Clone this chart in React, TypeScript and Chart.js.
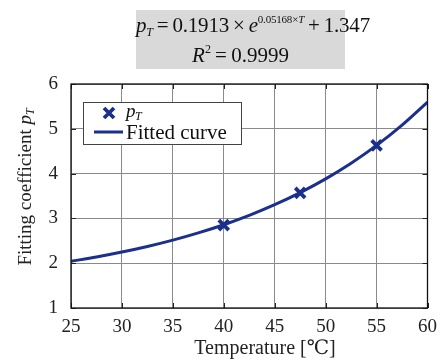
import React, { useEffect, useRef } from "react";
import { Chart, registerables } from "chart.js";

Chart.register(...registerables);

const xTicks = [25, 30, 35, 40, 45, 50, 55, 60];
const yTicks = [1, 2, 3, 4, 5, 6];
const measuredT = [40, 47.5, 55];
const measuredP = [2.85, 3.57, 4.63];
const curveT = [25, 27.5, 30, 32.5, 35, 37.5, 40, 42.5, 45, 47.5, 50, 52.5, 55, 57.5, 60];
const curveP = [2.043, 2.139, 2.249, 2.373, 2.515, 2.676, 2.859, 3.067, 3.305, 3.575, 3.882, 4.231, 4.629, 5.082, 5.597];

const BLUE = "#1b2f8c";
const SERIF = "'Liberation Serif', 'DejaVu Serif', serif";

const decor = {
  id: "decor",
  afterDraw(chart: any) {
    const { ctx, chartArea: a, scales } = chart;
    const xs = scales.x, ys = scales.y;
    ctx.save();
    // inward ticks
    ctx.strokeStyle = "#222";
    ctx.lineWidth = 1;
    ctx.beginPath();
    xTicks.forEach((v) => {
      const px = Math.round(xs.getPixelForValue(v)) + 0.5;
      ctx.moveTo(px, a.bottom); ctx.lineTo(px, a.bottom - 5);
      ctx.moveTo(px, a.top); ctx.lineTo(px, a.top + 5);
    });
    yTicks.forEach((v) => {
      const py = Math.round(ys.getPixelForValue(v)) + 0.5;
      ctx.moveTo(a.left, py); ctx.lineTo(a.left + 5, py);
      ctx.moveTo(a.right, py); ctx.lineTo(a.right - 5, py);
    });
    ctx.stroke();
    // frame
    ctx.strokeStyle = "#111";
    ctx.lineWidth = 1.3;
    ctx.strokeRect(a.left, a.top, a.right - a.left, a.bottom - a.top);

    // legend box
    const lx = 83, ly = 102, lw = 158, lh = 42;
    ctx.fillStyle = "#fff";
    ctx.fillRect(lx, ly, lw, lh);
    ctx.strokeStyle = "#444";
    ctx.lineWidth = 1;
    ctx.strokeRect(lx + 0.5, ly + 0.5, lw, lh);
    // cross
    ctx.strokeStyle = BLUE;
    ctx.lineWidth = 3.8;
    ctx.beginPath();
    const cx = 109, cy = 113, s = 5;
    ctx.moveTo(cx - s, cy - s); ctx.lineTo(cx + s, cy + s);
    ctx.moveTo(cx + s, cy - s); ctx.lineTo(cx - s, cy + s);
    ctx.stroke();
    // line
    ctx.lineWidth = 3;
    ctx.beginPath();
    ctx.moveTo(94, 132); ctx.lineTo(123, 132);
    ctx.stroke();
    ctx.fillStyle = "#111";
    ctx.textBaseline = "alphabetic";
    ctx.textAlign = "left";
    ctx.font = `italic 19px ${SERIF}`;
    ctx.fillText("p", 126, 117);
    ctx.font = `italic 12px ${SERIF}`;
    ctx.fillText("T", 135, 120);
    ctx.font = `21px ${SERIF}`;
    ctx.fillText("Fitted curve", 126, 139);

    // x title
    ctx.textAlign = "center";
    ctx.font = `20px ${SERIF}`;
    ctx.fillStyle = "#222";
    ctx.fillText("Temperature [\u2103]", 265, 354);

    // y title
    ctx.translate(31, 187);
    ctx.rotate(-Math.PI / 2);
    ctx.font = `19px ${SERIF}`;
    const main = "Fitting coefficient ";
    const w1 = ctx.measureText(main).width;
    ctx.font = `italic 19px ${SERIF}`;
    const w2 = ctx.measureText("p").width;
    ctx.font = `italic 12px ${SERIF}`;
    const w3 = ctx.measureText("T").width;
    const total = w1 + w2 + w3;
    let x0 = -total / 2;
    ctx.textAlign = "left";
    ctx.font = `19px ${SERIF}`;
    ctx.fillText(main, x0, 0);
    ctx.font = `italic 19px ${SERIF}`;
    ctx.fillText("p", x0 + w1, 0);
    ctx.font = `italic 12px ${SERIF}`;
    ctx.fillText("T", x0 + w1 + w2, 3);
    ctx.restore();
  },
};

const lineStyle: React.CSSProperties = {
  position: "absolute",
  left: 0,
  width: 209,
  textAlign: "center",
  lineHeight: "24px",
  height: 24,
  whiteSpace: "nowrap",
};

export default function App() {
  const ref = useRef<HTMLCanvasElement>(null);
  useEffect(() => {
    document.body.style.margin = "0";
    const chart = new Chart(ref.current!, {
      type: "scatter",
      data: {
        datasets: [
          {
            label: "Fitted curve",
            data: curveT.map((t, i) => ({ x: t, y: curveP[i] })),
            showLine: true,
            borderColor: BLUE,
            borderWidth: 3,
            pointRadius: 0,
            tension: 0.4,
            cubicInterpolationMode: "monotone",
            fill: false,
          } as any,
          {
            label: "pT",
            data: measuredT.map((t, i) => ({ x: t, y: measuredP[i] })),
            showLine: false,
            pointStyle: "crossRot",
            pointRadius: 7,
            pointBorderWidth: 3.8,
            borderColor: BLUE,
            backgroundColor: BLUE,
          } as any,
        ],
      },
      options: {
        animation: false,
        responsive: false,
        devicePixelRatio: 1,
        layout: { padding: { top: 84, right: 10, left: 0, bottom: 0 } },
        plugins: { legend: { display: false }, tooltip: { enabled: false } },
        scales: {
          x: {
            type: "linear",
            min: 25,
            max: 60,
            afterBuildTicks: (s: any) => { s.ticks = xTicks.map((v) => ({ value: v })); },
            afterFit: (s: any) => { s.height = 52; },
            grid: { color: "#8a8a8a", lineWidth: 1, drawTicks: false },
            border: { display: false },
            ticks: { font: { family: SERIF, size: 19 }, color: "#222", padding: 8 },
          },
          y: {
            type: "linear",
            min: 1,
            max: 6,
            afterBuildTicks: (s: any) => { s.ticks = yTicks.map((v) => ({ value: v })); },
            afterFit: (s: any) => { s.width = 71; },
            grid: { color: "#8a8a8a", lineWidth: 1, drawTicks: false },
            border: { display: false },
            ticks: { font: { family: SERIF, size: 19 }, color: "#222", padding: 13 },
          },
        },
      },
      plugins: [decor],
    });
    return () => chart.destroy();
  }, []);

  const sub: React.CSSProperties = { fontSize: 12, position: "relative", top: 4, lineHeight: 0, verticalAlign: "baseline" };
  const sup: React.CSSProperties = { fontSize: 12, position: "relative", top: -9, lineHeight: 0, verticalAlign: "baseline" };

  return (
    <div style={{ position: "absolute", left: 0, top: 0, width: 445, height: 360, background: "#fff" }}>
      <canvas ref={ref} width={445} height={360} style={{ position: "absolute", left: 0, top: 0 }} />
      <div
        style={{
          position: "absolute",
          left: 136,
          top: 10,
          width: 209,
          height: 59,
          background: "#d9d9d9",
          fontFamily: SERIF,
          fontSize: 21,
          color: "#111",
        }}
      >
        <div style={{ ...lineStyle, top: 3, letterSpacing: "-0.2px" }}>
          <i>p</i>
          <span style={sub}><i>T</i></span>
          {"\u2009=\u20090.1913\u2009\u00d7\u2009"}
          <i>e</i>
          <span style={{ ...sup, fontSize: 11 }}>
            0.05168×<i>T</i>
          </span>
          {"\u2009+\u20091.347"}
        </div>
        <div style={{ ...lineStyle, top: 33 }}>
          <i>R</i>
          <span style={sup}>2</span>
          {"\u2009=\u20090.9999"}
        </div>
      </div>
    </div>
  );
}
